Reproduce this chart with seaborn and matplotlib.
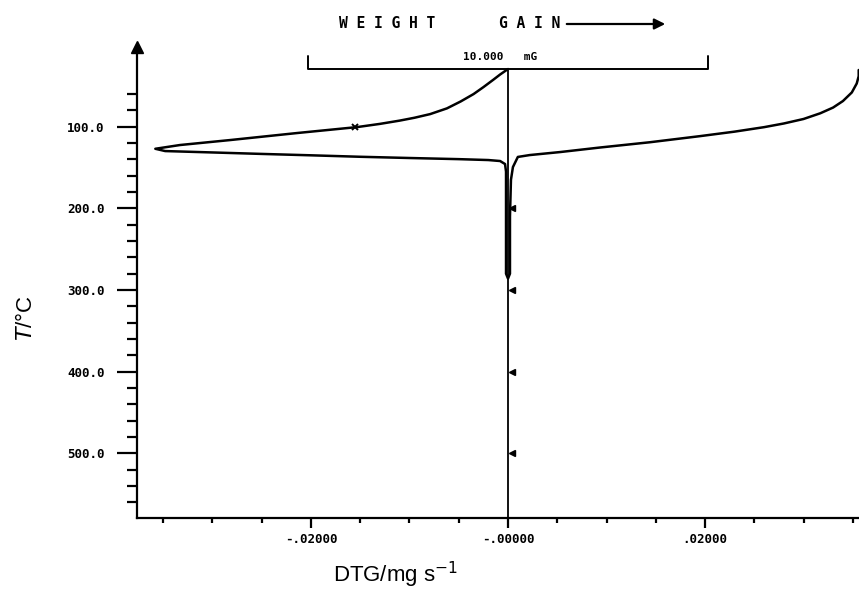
import numpy as np, pandas as pd
import matplotlib; matplotlib.use('Agg')
import matplotlib.pyplot as plt
import seaborn as sns

# ─── Data ───
dtg = [0.0000, -0.0008, -0.0015, -0.0025, -0.0035, -0.0048, -0.0062, -0.0079,
       -0.0095, -0.0110, -0.0130, -0.0153, -0.0214, -0.0282, -0.0333, -0.0358,
       -0.0348, -0.0300, -0.0250, -0.0200, -0.0150, -0.0100, -0.0050, -0.0020,
       -0.0008, -0.0003, -0.0002, -0.0002, -0.0002, 0.0000,
       0.0002, 0.0002, 0.0003, 0.0005, 0.0010, 0.0022, 0.0053, 0.0093, 0.0144,
       0.0195, 0.0230, 0.0260, 0.0280, 0.0300, 0.0317, 0.0330, 0.0340, 0.0349,
       0.0354, 0.0356, 0.0356]
temp = [29.3, 36.0, 42.5, 51.5, 60.0, 69.0, 77.5, 84.5,
        89.0, 92.5, 96.5, 100.4, 107.7, 116.3, 122.4, 127.0,
        129.8, 131.5, 133.3, 135.0, 136.8, 138.3, 139.7, 140.8,
        142.0, 145.7, 155.0, 220.0, 280.0, 286.0,
        280.0, 210.0, 165.0, 149.4, 137.0, 134.7, 131.0, 125.5, 119.0,
        111.5, 106.0, 100.5, 96.0, 90.5, 83.5, 76.5, 68.5, 58.0,
        47.0, 38.0, 30.5]

zero_T = [29.3, 579]                      # instrument zero line
mark_T = [200, 300, 400, 500]             # temperature flags on the trace
mark_dtg = [0.0004, 0.0004, 0.0004, 0.0004]
cross_dtg, cross_T = [-0.0155], [100.5]   # 100 degC cross on heating branch

scale_x = [-0.0203, -0.0203, 0.0203, 0.0203]   # 10 mg TG scale bar
scale_T = [13.4, 29.3, 29.3, 13.4]

yticks = [100, 200, 300, 400, 500]
ylabels = ['100.0', '200.0', '300.0', '400.0', '500.0']
xticks = [-0.02, 0.0, 0.02]
xlabels = ['-.02000', '-.00000', '.02000']

df = pd.DataFrame({'DTG': dtg, 'T': temp})

# ─── Figure ───
sns.set_theme(style='white')
plt.rcParams['font.family'] = ['Liberation Sans', 'DejaVu Sans']
plt.rcParams.update({'text.color': 'black', 'axes.labelcolor': 'black',
                     'xtick.color': 'black', 'ytick.color': 'black'})

W, H = 859, 595
fig = plt.figure(figsize=(W / 100, H / 100), dpi=100)
ax = fig.add_axes([137 / W, 77.3 / H, 1 - 137 / W, (517.7 - 47) / H])

sns.lineplot(data=df, x='DTG', y='T', sort=False, estimator=None,
             color='black', lw=1.8, ax=ax)
ax.plot([0, 0], zero_T, color='black', lw=1.3)
ax.plot(mark_dtg, mark_T, ls='none', marker='<', ms=5, color='black')
ax.plot(cross_dtg, cross_T, ls='none', marker='x', ms=5, mew=1.4, color='black')
ax.plot(scale_x, scale_T, color='black', lw=1.4)
ax.text(-0.0008, 14.6, '10.000   mG', ha='center', va='center',
        family='DejaVu Sans Mono', weight='bold', size=8)

ax.set_xlim(-0.03766, 0.03563)
ax.set_ylim(579, 2.3)

mono = dict(family='DejaVu Sans Mono', weight='bold', size=9)
ax.set_yticks(yticks, labels=ylabels, **mono)
ax.set_xticks(xticks, labels=xlabels, **mono)
ax.set_yticks(np.arange(60, 561, 20), minor=True)
ax.set_xticks(np.arange(-0.035, 0.0351, 0.005), minor=True)
ax.tick_params(axis='y', which='major', direction='out', length=14.4, width=1.6,
               pad=9, left=True, color='black')
ax.tick_params(axis='y', which='minor', direction='out', length=7.2, width=1.6,
               left=True, color='black')
ax.tick_params(axis='x', which='major', direction='out', length=7, width=1.6,
               pad=4, bottom=True, color='black')
ax.tick_params(axis='x', which='minor', direction='out', length=3.5, width=1.6,
               bottom=True, color='black')

for s in ['top', 'right']:
    ax.spines[s].set_visible(False)
for s in ['left', 'bottom']:
    ax.spines[s].set_color('black')
    ax.spines[s].set_linewidth(1.6)
ax.plot(0, 1, marker='^', ms=8, color='black', transform=ax.transAxes, clip_on=False)

ax.set_xlabel(r'DTG/mg s$^{-1}$', size=16, va='center')
ax.set_ylabel(r'$T$/°C', size=16, va='center')
ax.xaxis.set_label_coords((395 - 137) / 722, (517.7 - 575) / 470.7)
ax.yaxis.set_label_coords((26 - 137) / 722, (517.7 - 318) / 470.7)

# header: WEIGHT GAIN ->
hdr = dict(family='DejaVu Sans Mono', weight='bold', size=10.5, ha='center', va='center')
fig.text(387.5 / W, 1 - 24 / H, 'W E I G H T', **hdr)
fig.text(530 / W, 1 - 24 / H, 'G A I N', **hdr)
ax.annotate('', xy=(668 / W, 1 - 24 / H), xytext=(564 / W, 1 - 24 / H),
            xycoords='figure fraction',
            arrowprops=dict(arrowstyle='-|>', lw=1.6, color='black', mutation_scale=16))

fig.savefig('out.png', dpi=100)
